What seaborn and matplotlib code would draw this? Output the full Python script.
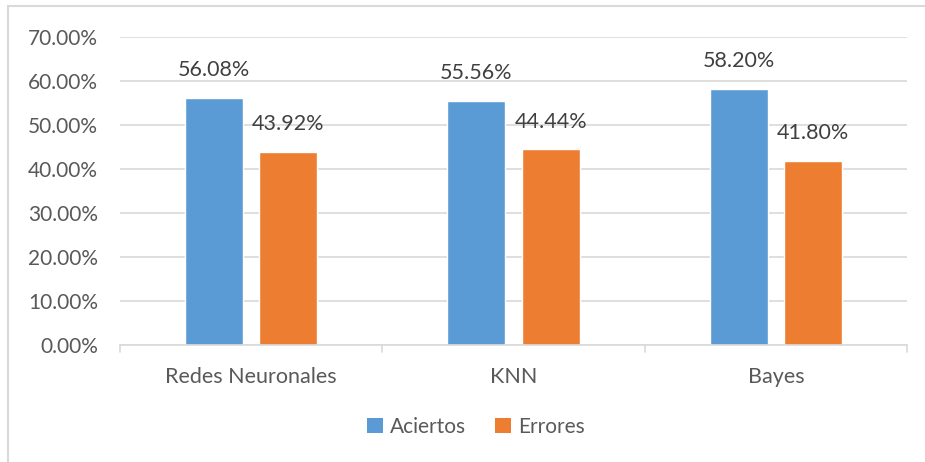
import matplotlib
matplotlib.use("Agg")
import matplotlib.pyplot as plt
from matplotlib.lines import Line2D
from matplotlib.patches import Patch
import seaborn as sns
import pandas as pd

modelos = ["Redes Neuronales", "KNN", "Bayes"]
aciertos = [56.08, 55.56, 58.20]
errores = [43.92, 44.44, 41.80]
series = ["Aciertos", "Errores"]
colores = ["#5B9BD5", "#ED7D31"]
yticks = [0, 10, 20, 30, 40, 50, 60, 70]

df = pd.DataFrame({
    "Modelo": modelos * 2,
    "Serie": [series[0]] * 3 + [series[1]] * 3,
    "Valor": aciertos + errores,
})

sns.set_theme(style="white")
plt.rcParams["font.family"] = ["Lato", "DejaVu Sans"]

fig = plt.figure(figsize=(9.25, 4.62), dpi=100)
ax = fig.add_axes([120 / 925, 1 - 345 / 462, 787 / 925, 308 / 462])

sns.barplot(data=df, x="Modelo", y="Valor", hue="Serie", palette=colores,
            width=0.568, gap=0.22, ax=ax, legend=False, saturation=1)

ax.set_xlim(-0.5, 2.5)
ax.set_ylim(0, 70)
ax.set_yticks(yticks)
ax.set_yticklabels([f"{v:.2f}%" for v in yticks])
ax.yaxis.grid(True, color="#D9D9D9", linewidth=1.2)
ax.set_axisbelow(True)
ax.set_xlabel("")
ax.set_ylabel("")

for s in ["left", "right", "top"]:
    ax.spines[s].set_visible(False)
ax.spines["bottom"].set_color("#D9D9D9")
ax.spines["bottom"].set_linewidth(1.2)

ax.tick_params(axis="y", length=0, pad=16, labelsize=15, labelcolor="#595959")
ax.tick_params(axis="x", length=0, pad=16, labelsize=15.5, labelcolor="#595959")

# separator ticks between categories
for xb in [-0.5, 0.5, 1.5, 2.5]:
    ax.plot([xb, xb], [0, -1.6], color="#D9D9D9", lw=1.2, clip_on=False)

# value labels above each bar
for cont in ax.containers:
    for bar in cont:
        h = bar.get_height()
        ax.annotate(f"{h:.2f}%", (bar.get_x() + bar.get_width() / 2, h),
                    xytext=(0, 20), textcoords="offset points",
                    ha="center", va="center", fontsize=15.5, color="#404040")

handles = [Patch(facecolor=c, edgecolor="none") for c in colores]
fig.legend(handles, series, loc="center", bbox_to_anchor=(476 / 925, 1 - 427 / 462),
           ncol=2, frameon=False, fontsize=15, handlelength=0.75, handleheight=0.75,
           columnspacing=1.4, handletextpad=0.35, labelcolor="#595959")

# chart area frame
fig.add_artist(Line2D([8 / 925, 8 / 925], [0, 1 - 6 / 462], transform=fig.transFigure,
                      color="#D9D9D9", lw=1.5))
fig.add_artist(Line2D([8 / 925, 1], [1 - 6 / 462, 1 - 6 / 462], transform=fig.transFigure,
                      color="#D9D9D9", lw=1.5))

fig.savefig("out.png", dpi=100)
